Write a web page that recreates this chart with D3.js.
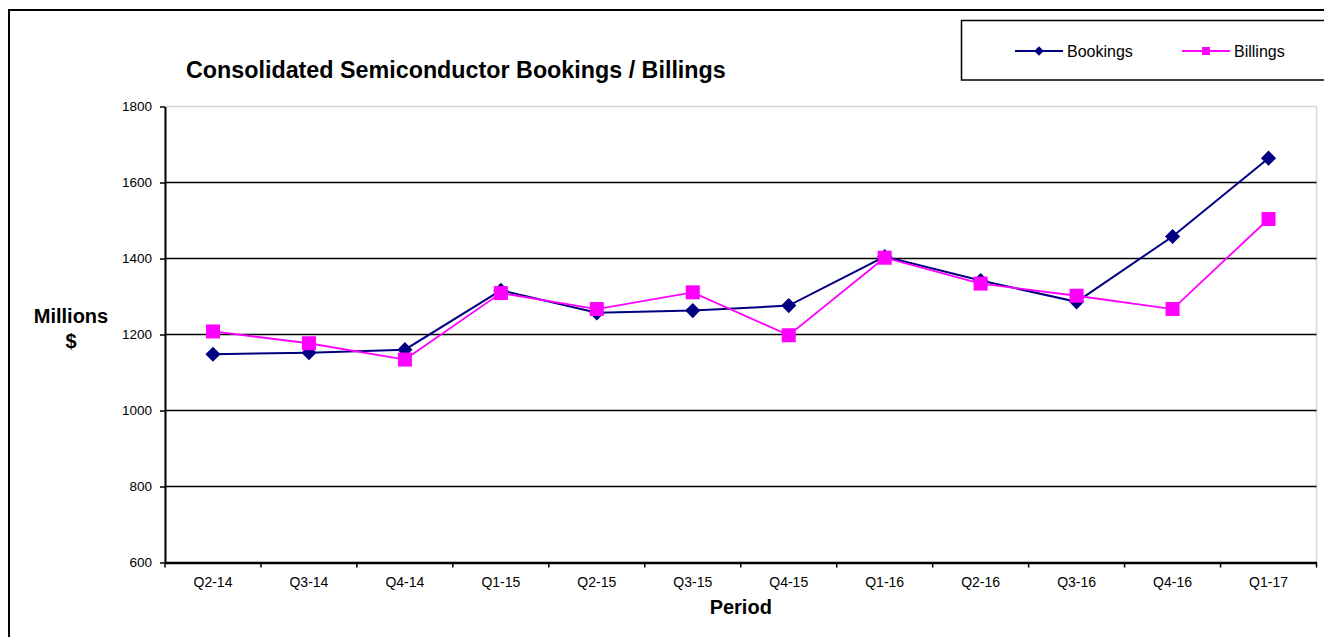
<!DOCTYPE html>
<html>
<head>
<meta charset="utf-8">
<script src="https://cdn.jsdelivr.net/npm/d3@7"></script>
<style>
  html, body { margin: 0; padding: 0; background: #fff; }
  svg { display: block; font-family: "Liberation Sans", Arial, sans-serif; }
</style>
</head>
<body>
<svg id="chart" width="1324" height="637"></svg>
<script>
// Quarterly periods
const periods = ["Q2-14", "Q3-14", "Q4-14", "Q1-15", "Q2-15", "Q3-15", "Q4-15", "Q1-16", "Q2-16", "Q3-16", "Q4-16", "Q1-17"];
// Millions of dollars
const bookings = [1148, 1152, 1160, 1316, 1257, 1263, 1276, 1405, 1342, 1286, 1458, 1664];
const billings = [1208, 1177, 1134, 1309, 1267, 1311, 1198, 1402, 1334, 1302, 1267, 1504];
const yTicks = [600, 800, 1000, 1200, 1400, 1600, 1800];

const svg = d3.select("#chart");

const plot = { left: 165, right: 1316.5, top: 106.5, bottom: 562.5 };

const x = d3.scaleBand().domain(periods).range([plot.left, plot.right]).padding(0);
const y = d3.scaleLinear().domain([600, 1800]).range([plot.bottom, plot.top]);
const cx = d => x(d) + x.bandwidth() / 2;

// Outer frame
svg.append("rect")
  .attr("x", 9).attr("y", 10).attr("width", 1330).attr("height", 640)
  .attr("fill", "none").attr("stroke", "#000").attr("stroke-width", 2);

// Plot area outline (light grey)
svg.append("rect")
  .attr("x", plot.left).attr("y", plot.top)
  .attr("width", plot.right - plot.left).attr("height", plot.bottom - plot.top)
  .attr("fill", "none").attr("stroke", "#d8d8d8").attr("stroke-width", 1.5);

// Horizontal gridlines
svg.append("g").selectAll("line")
  .data(yTicks.filter(t => t > 600 && t < 1800))
  .join("line")
  .attr("x1", plot.left).attr("x2", plot.right)
  .attr("y1", d => y(d)).attr("y2", d => y(d))
  .attr("stroke", "#000").attr("stroke-width", 1.5);

// Y axis
const yAxis = svg.append("g")
  .attr("transform", `translate(${plot.left},0)`)
  .call(d3.axisLeft(y).tickValues(yTicks).tickFormat(d3.format("d"))
    .tickSize(5).tickPadding(8).tickSizeOuter(0));
yAxis.select(".domain").attr("stroke", "#000").attr("stroke-width", 2);
yAxis.selectAll(".tick line").attr("stroke", "#000").attr("stroke-width", 1.5);
yAxis.selectAll(".tick text")
  .attr("font-family", "Liberation Sans, Arial, sans-serif")
  .attr("font-size", 13.5).attr("fill", "#000");

// X axis: category labels centred in each band, ticks on band boundaries
const xAxis = svg.append("g")
  .attr("transform", `translate(0,${plot.bottom})`)
  .call(d3.axisBottom(x).tickSize(0).tickPadding(15).tickSizeOuter(0));
xAxis.select(".domain").attr("stroke", "#000").attr("stroke-width", 2.5);
xAxis.selectAll(".tick text")
  .attr("font-family", "Liberation Sans, Arial, sans-serif")
  .attr("font-size", 14).attr("fill", "#000");
const bounds = periods.map(p => x(p)).concat([plot.right]);
xAxis.append("g").selectAll("line")
  .data(bounds)
  .join("line")
  .attr("x1", d => d).attr("x2", d => d)
  .attr("y1", 0).attr("y2", 5)
  .attr("stroke", "#000").attr("stroke-width", 1.5);

// Titles
svg.append("text")
  .attr("x", 186).attr("y", 78)
  .attr("font-size", 23.3).attr("font-weight", "bold")
  .text("Consolidated Semiconductor Bookings / Billings");

svg.append("text")
  .attr("x", 71).attr("y", 323)
  .attr("text-anchor", "middle")
  .attr("font-size", 20).attr("font-weight", "bold")
  .text("Millions");
svg.append("text")
  .attr("x", 71).attr("y", 348)
  .attr("text-anchor", "middle")
  .attr("font-size", 20).attr("font-weight", "bold")
  .text("$");

svg.append("text")
  .attr("x", (plot.left + plot.right) / 2).attr("y", 614)
  .attr("text-anchor", "middle")
  .attr("font-size", 20).attr("font-weight", "bold")
  .text("Period");

// Series
const navy = "#000080", magenta = "#ff00ff";
const line = d3.line().x((d, i) => cx(periods[i])).y(d => y(d));

const diamond = d3.symbol().type(d3.symbolSquare).size(115);
const square = d3.symbol().type(d3.symbolSquare).size(196);

svg.append("path").datum(bookings)
  .attr("d", line).attr("fill", "none")
  .attr("stroke", navy).attr("stroke-width", 2);
svg.append("g").selectAll("path")
  .data(bookings)
  .join("path")
  .attr("d", diamond)
  .attr("transform", (d, i) => `translate(${cx(periods[i])},${y(d)}) rotate(45)`)
  .attr("fill", navy);

svg.append("path").datum(billings)
  .attr("d", line).attr("fill", "none")
  .attr("stroke", magenta).attr("stroke-width", 1.8);
svg.append("g").selectAll("path")
  .data(billings)
  .join("path")
  .attr("transform", (d, i) => `translate(${cx(periods[i])},${y(d)})`)
  .attr("d", square)
  .attr("fill", magenta);

// Legend
const legend = svg.append("g");
legend.append("rect")
  .attr("x", 961.5).attr("y", 20.5).attr("width", 400).attr("height", 59.5)
  .attr("fill", "#fff").attr("stroke", "#000").attr("stroke-width", 1.5);

const legendItems = [
  { name: "Bookings", color: navy, x0: 1015, kind: "diamond" },
  { name: "Billings", color: magenta, x0: 1182, kind: "square" }
];
const li = legend.selectAll("g.item").data(legendItems).join("g").attr("class", "item");
li.append("line")
  .attr("x1", d => d.x0).attr("x2", d => d.x0 + 48)
  .attr("y1", 51).attr("y2", 51)
  .attr("stroke", d => d.color).attr("stroke-width", 2);
li.append("path")
  .attr("transform", d => `translate(${d.x0 + 24},51)` + (d.kind === "diamond" ? " rotate(45)" : ""))
  .attr("d", d => d3.symbol().type(d3.symbolSquare).size(d.kind === "diamond" ? 45 : 64)())
  .attr("fill", d => d.color);
li.append("text")
  .attr("x", d => d.x0 + 52).attr("y", 57)
  .attr("font-size", 16)
  .text(d => d.name);
</script>
</body>
</html>
